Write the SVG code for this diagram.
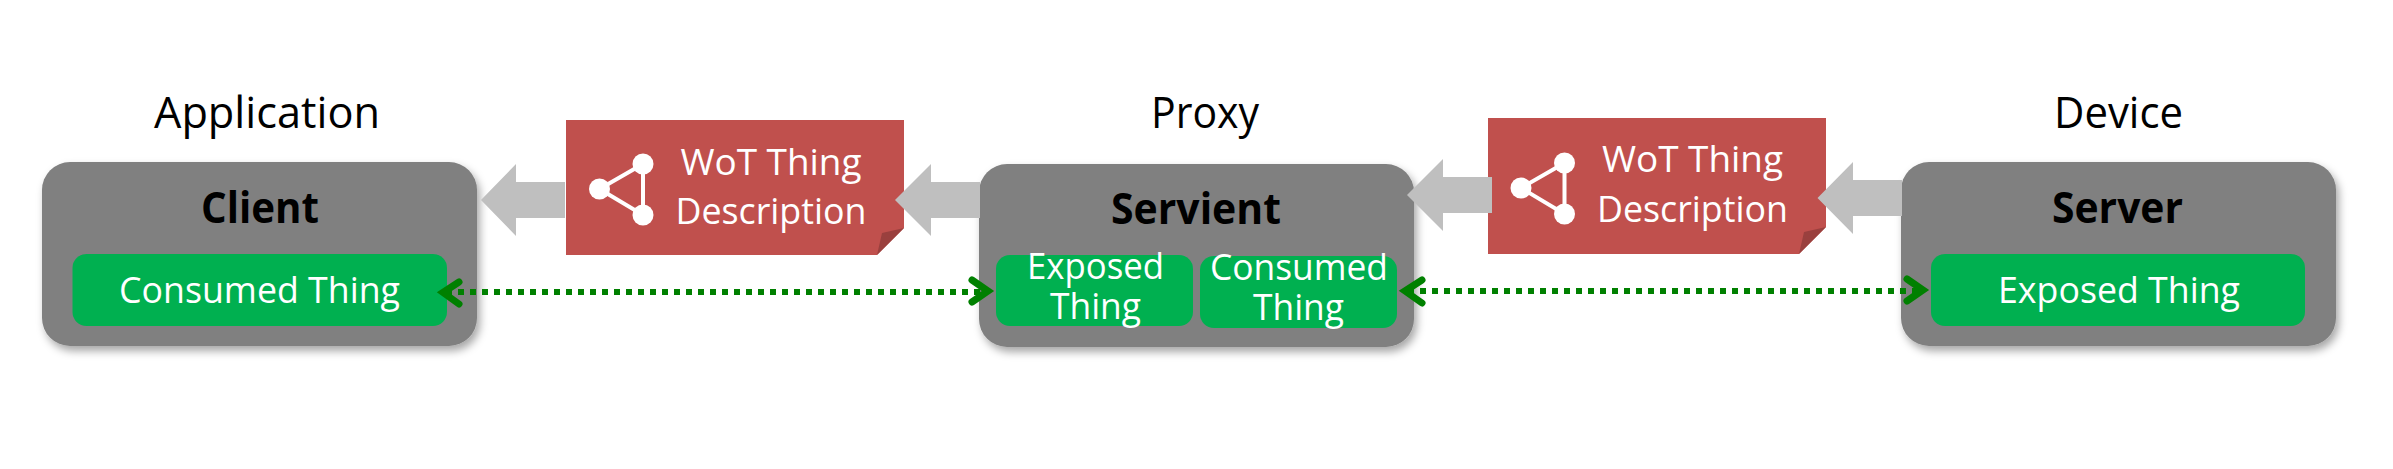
<svg xmlns="http://www.w3.org/2000/svg" width="2393" height="469" viewBox="0 0 2393 469">
<style>
text{font-family:"Open Sans","Noto Sans","Liberation Sans",sans-serif;text-anchor:middle}
.title{font-size:43px;fill:#000}
.head{font-size:43px;font-weight:700;fill:#000}
.w{font-size:36px;fill:#fff}
.doc-t{font-size:37px;fill:#fff}
.box{fill:#808080;filter:url(#sh)}
.g{fill:#00b050}
.doc{fill:#c0504d}
.fold{fill:#9a403e}
.block{fill:#bfbfbf}
.dots{fill:none;stroke:#008000;stroke-width:6;stroke-dasharray:6 6}
.chev{fill:none;stroke:#008000;stroke-width:7;stroke-linecap:round;stroke-linejoin:miter}
.ic{stroke:#fff;stroke-width:4;fill:none}
.icn{fill:#fff}
</style>
<defs>
<filter id="sh" x="-10%" y="-10%" width="125%" height="125%"><feDropShadow dx="3" dy="5" stdDeviation="4" flood-color="#000" flood-opacity="0.35"/></filter>
<g id="icon">
<path class="ic" d="M0 0L43.500 -25V26Z"/>
<circle class="icn" cx="0" cy="0" r="10.500"/>
<circle class="icn" cx="43.500" cy="-25" r="10.500"/>
<circle class="icn" cx="43.500" cy="26" r="10.500"/>
</g>
</defs>
<g id="label-application"><text class="title" x="267" y="128" textLength="226" lengthAdjust="spacingAndGlyphs">Application</text></g>
<g id="label-proxy"><text class="title" x="1205" y="128" textLength="108" lengthAdjust="spacingAndGlyphs">Proxy</text></g>
<g id="label-device"><text class="title" x="2118.500" y="128" textLength="129" lengthAdjust="spacingAndGlyphs">Device</text></g>

<g id="client">
<rect class="box" x="42" y="162" width="435" height="184" rx="28"/>
<text class="head" x="260" y="223" textLength="118" lengthAdjust="spacingAndGlyphs">Client</text>
<rect class="g" x="72.500" y="254" width="374.500" height="72" rx="14"/>
<text class="w" x="259.500" y="303" textLength="281" lengthAdjust="spacingAndGlyphs">Consumed Thing</text>
</g>
<g id="servient">
<rect class="box" x="979" y="164" width="435" height="183" rx="28"/>
<text class="head" x="1196" y="224" textLength="170" lengthAdjust="spacingAndGlyphs">Servient</text>
<rect class="g" x="996" y="255" width="197" height="71" rx="14"/>
<rect class="g" x="1200" y="256" width="197" height="72" rx="14"/>
<text class="w" x="1095.500" y="279" textLength="137" lengthAdjust="spacingAndGlyphs">Exposed</text>
<text class="w" x="1095.500" y="319" textLength="91" lengthAdjust="spacingAndGlyphs">Thing</text>
<text class="w" x="1299" y="280" textLength="178" lengthAdjust="spacingAndGlyphs">Consumed</text>
<text class="w" x="1298.500" y="320" textLength="91" lengthAdjust="spacingAndGlyphs">Thing</text>
</g>
<g id="server">
<rect class="box" x="1901" y="162" width="435" height="184" rx="28"/>
<text class="head" x="2117.500" y="223" textLength="131" lengthAdjust="spacingAndGlyphs">Server</text>
<rect class="g" x="1931" y="254" width="374" height="72" rx="14"/>
<text class="w" x="2119" y="303" textLength="242" lengthAdjust="spacingAndGlyphs">Exposed Thing</text>
</g>
<g id="td-left">
<path class="doc" d="M566 120H904V228L877 255H566Z"/>
<path class="fold" d="M877 255L882 233L904 228Z"/>
<use href="#icon" x="599.500" y="189"/>
<text class="doc-t" x="771" y="175" textLength="181" lengthAdjust="spacingAndGlyphs">WoT Thing</text>
<text class="doc-t" x="771" y="224" textLength="191" lengthAdjust="spacingAndGlyphs">Description</text>
</g>
<g id="td-right">
<path class="doc" d="M1488 118H1826V227L1799 254H1488Z"/>
<path class="fold" d="M1799 254L1804 232L1826 227Z"/>
<use href="#icon" x="1521" y="188"/>
<text class="doc-t" x="1692.500" y="172" textLength="181" lengthAdjust="spacingAndGlyphs">WoT Thing</text>
<text class="doc-t" x="1692.500" y="222" textLength="191" lengthAdjust="spacingAndGlyphs">Description</text>
</g>
<g id="connectors">
<path class="block" d="M481 200L516 164V182H565V218H516V236Z"/>
<path class="block" d="M895 200L931 164V182H980V218H931V236Z"/>
<path class="block" d="M1407 195L1443 159V177H1492V213H1443V231Z"/>
<path class="block" d="M1817.500 198L1853 162V180H1902V216H1853V234Z"/>
<path class="dots" d="M446 292H987"/>
<path class="dots" d="M1408 291H1921"/>
<path class="chev" d="M459 282L443 292.500L459 304"/>
<path class="chev" d="M972 280L988 291L972 302"/>
<path class="chev" d="M1422 280L1405 291L1422 303"/>
<path class="chev" d="M1907 279L1923 290L1907 301"/>
</g>
</svg>
